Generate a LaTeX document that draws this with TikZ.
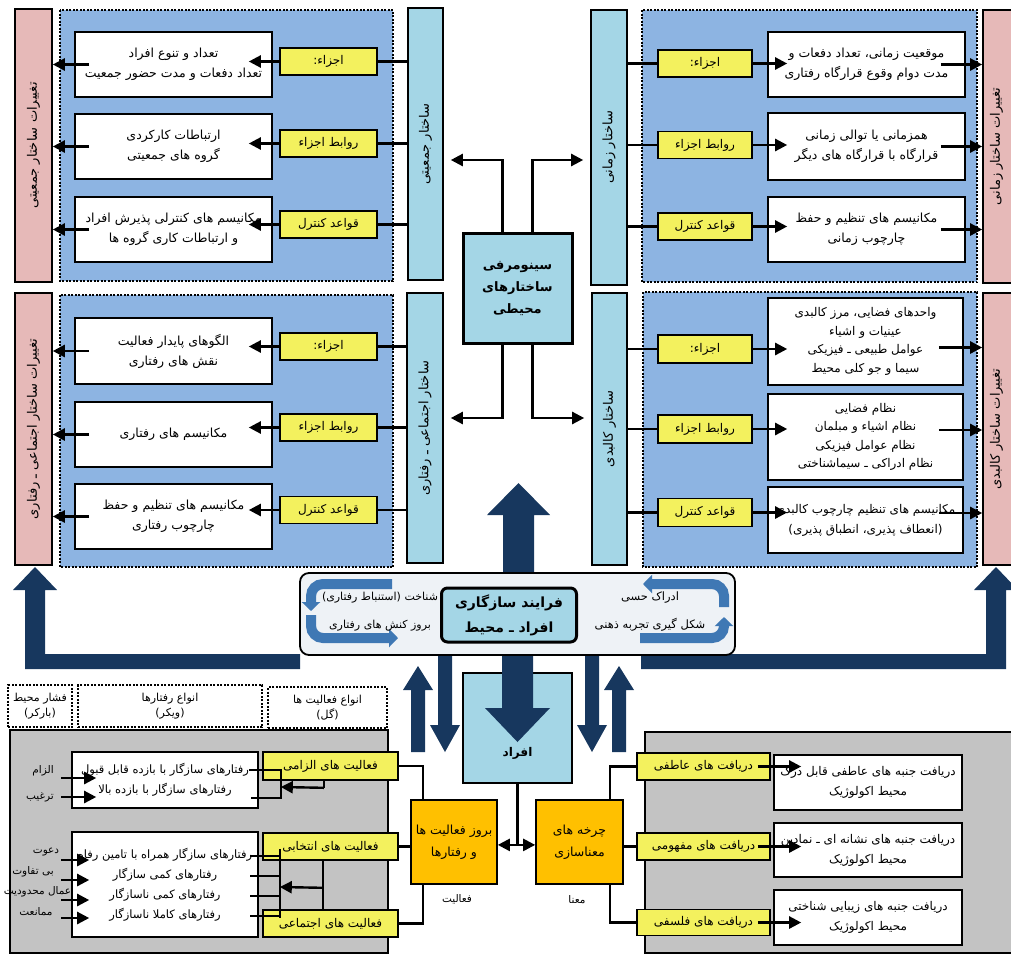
\documentclass[tikz,border=0pt]{standalone}
\usepackage{fontspec}
\newfontfamily\fa[Script=Arabic]{DejaVu Sans}
\TeXXeTstate=1
\usetikzlibrary{arrows.meta,calc}
\definecolor{panelblue}{HTML}{8DB4E2}
\definecolor{barcyan}{HTML}{A4D6E6}
\definecolor{barpink}{HTML}{E6B9B8}
\definecolor{boxyellow}{HTML}{F3F15E}
\definecolor{boxorange}{HTML}{FFC000}
\definecolor{panelgray}{HTML}{C3C3C3}
\definecolor{navy}{HTML}{17375E}
\definecolor{cycleblue}{HTML}{3F78B4}
\definecolor{adfill}{HTML}{EEF2F6}
\newcommand{\fatxt}[1]{\beginR #1\endR}
\tikzset{
  wbox/.style={draw, line width=1.6pt, fill=white, align=center, inner sep=0pt, font=\fa\fontsize{12.5}{20}\selectfont},
  ybox/.style={draw, line width=1.6pt, fill=boxyellow, inner sep=0pt, font=\fa\fontsize{12}{14}\selectfont},
  cbar/.style={draw, line width=1.6pt, fill=barcyan, inner sep=0pt},
  pbar/.style={draw, line width=1.6pt, fill=barpink, inner sep=0pt},
  vtext/.style={rotate=90, font=\fa\fontsize{13}{15}\selectfont},
  obox/.style={draw, line width=1.6pt, fill=boxorange, align=center, inner sep=0pt, font=\fa\fontsize{12.5}{22}\selectfont},
  panel/.style={draw, line width=1.8pt, dash pattern=on 2pt off 1.5pt, fill=panelblue},
  hbox/.style={draw, line width=1.8pt, dash pattern=on 2pt off 1.5pt, fill=white, align=center, inner sep=0pt, font=\fa\fontsize{11}{15}\selectfont},
  link/.style={line width=2.4pt},
  arr/.style={link, -{Triangle[length=12pt,width=12pt]}},
  lbl/.style={font=\fa\fontsize{10.5}{13}\selectfont, inner sep=0pt},
}
\begin{document}
\begin{tikzpicture}[x=1pt,y=-1pt]
\useasboundingbox (0,0) rectangle (1011,956);

% top left: population structure
\draw[panel] (60,10) rectangle (393,281);
\node[pbar, minimum width=37, minimum height=273] (tlp) at (33.5,145.5) {};
\node[vtext] at (tlp) {\fatxt{تغییرات ساختار جمعیتی}};
\node[cbar, minimum width=35, minimum height=272] (tlc) at (425.5,144) {};
\node[vtext] at (tlc) {\fatxt{ساختار جمعیتی}};
\node[wbox, minimum width=197, minimum height=65] (tlw1) at (173.5,64.5) {\fatxt{تعداد و تنوع افراد}\\\fatxt{تعداد دفعات و مدت حضور جمعیت}};
\node[wbox, minimum width=197, minimum height=65] (tlw2) at (173.5,146.5) {\fatxt{ارتباطات کارکردی}\\\fatxt{گروه های جمعیتی}};
\node[wbox, minimum width=197, minimum height=65] (tlw3) at (173.5,229.5) {\fatxt{مکانیسم های کنترلی پذیرش افراد}\\\fatxt{و ارتباطات کاری گروه ها}};
\node[ybox, minimum width=97, minimum height=27] (tly1) at (328.5,61.5) {\fatxt{اجزاء:}};
\node[ybox, minimum width=97, minimum height=27] (tly2) at (328.5,143.5) {\fatxt{روابط اجزاء}};
\node[ybox, minimum width=97, minimum height=27] (tly3) at (328.5,224.5) {\fatxt{قواعد کنترل}};
\draw[link] (tlc.west |- tly1.east) -- (tly1.east);
\draw[link] (tlc.west |- tly2.east) -- (tly2.east);
\draw[link] (tlc.west |- tly3.east) -- (tly3.east);
\draw[arr] (tly1.west) -- ($(tly1.west -| tlw1.east)+(-24,0)$);
\draw[arr] (tly2.west) -- ($(tly2.west -| tlw2.east)+(-24,0)$);
\draw[arr] (tly3.west) -- ($(tly3.west -| tlw3.east)+(-24,0)$);
\draw[arr] ($(tlw1.west)+(15,0)$) -- (tlw1.west -| tlp.east);
\draw[arr] ($(tlw2.west)+(15,0)$) -- (tlw2.west -| tlp.east);
\draw[arr] ($(tlw3.west)+(15,0)$) -- (tlw3.west -| tlp.east);

% middle left: social-behavioural structure
\draw[panel] (60,295) rectangle (393,567);
\node[pbar, minimum width=37, minimum height=272] (mlp) at (33.5,429) {};
\node[vtext] at (mlp) {\fatxt{تغییرات ساختار اجتماعی ـ رفتاری}};
\node[cbar, minimum width=36, minimum height=270] (mlc) at (425,428) {};
\node[vtext] at (mlc) {\fatxt{ساختار اجتماعی ـ رفتاری}};
\node[wbox, minimum width=197, minimum height=66] (mlw1) at (173.5,351) {\fatxt{الگوهای پایدار فعالیت}\\\fatxt{نقش های رفتاری}};
\node[wbox, minimum width=197, minimum height=65] (mlw2) at (173.5,434.5) {\fatxt{مکانیسم های رفتاری}};
\node[wbox, minimum width=197, minimum height=65] (mlw3) at (173.5,516.5) {\fatxt{مکانیسم های تنظیم و حفظ}\\\fatxt{چارچوب رفتاری}};
\node[ybox, minimum width=97, minimum height=27] (mly1) at (328.5,346.5) {\fatxt{اجزاء:}};
\node[ybox, minimum width=97, minimum height=27] (mly2) at (328.5,427.5) {\fatxt{روابط اجزاء}};
\node[ybox, minimum width=97, minimum height=27] (mly3) at (328.5,510) {\fatxt{قواعد کنترل}};
\draw[link] (mlc.west |- mly1.east) -- (mly1.east);
\draw[link] (mlc.west |- mly2.east) -- (mly2.east);
\draw[link] (mlc.west |- mly3.east) -- (mly3.east);
\draw[arr] (mly1.west) -- ($(mly1.west -| mlw1.east)+(-24,0)$);
\draw[arr] (mly2.west) -- ($(mly2.west -| mlw2.east)+(-24,0)$);
\draw[arr] (mly3.west) -- ($(mly3.west -| mlw3.east)+(-24,0)$);
\draw[arr] ($(mlw1.west)+(15,0)$) -- (mlw1.west -| mlp.east);
\draw[arr] ($(mlw2.west)+(15,0)$) -- (mlw2.west -| mlp.east);
\draw[arr] ($(mlw3.west)+(15,0)$) -- (mlw3.west -| mlp.east);

% top right: time structure
\draw[panel] (642,10) rectangle (977,282);
\node[cbar, minimum width=36, minimum height=275] (trc) at (609,147.5) {};
\node[vtext] at (trc) {\fatxt{ساختار زمانی}};
\node[pbar, minimum width=37, minimum height=273] (trp) at (1001.5,146.5) {};
\node[vtext] at ($(trp)+(-5,0)$) {\fatxt{تغییرات ساختار زمانی}};
\node[wbox, minimum width=197, minimum height=65] (trw1) at (866.5,64.5) {\fatxt{موقعیت زمانی، تعداد دفعات و}\\\fatxt{مدت دوام وقوع قرارگاه رفتاری}};
\node[wbox, minimum width=197, minimum height=67] (trw2) at (866.5,146.5) {\fatxt{همزمانی یا توالی زمانی}\\\fatxt{قرارگاه با قرارگاه های دیگر}};
\node[wbox, minimum width=197, minimum height=65] (trw3) at (866.5,229.5) {\fatxt{مکانیسم های تنظیم و حفظ}\\\fatxt{چارچوب زمانی}};
\node[ybox, minimum width=94, minimum height=27] (try1) at (705,63.5) {\fatxt{اجزاء:}};
\node[ybox, minimum width=94, minimum height=27] (try2) at (705,145) {\fatxt{روابط اجزاء}};
\node[ybox, minimum width=94, minimum height=27] (try3) at (705,226.5) {\fatxt{قواعد کنترل}};
\draw[link] (trc.east |- try1.west) -- (try1.west);
\draw[link] (trc.east |- try2.west) -- (try2.west);
\draw[link] (trc.east |- try3.west) -- (try3.west);
\draw[arr] (try1.east) -- ($(try1.east -| trw1.west)+(20,0)$);
\draw[arr] (try2.east) -- ($(try2.east -| trw2.west)+(20,0)$);
\draw[arr] (try3.east) -- ($(try3.east -| trw3.west)+(20,0)$);
\draw[arr] ($(trw1.east)+(-25,0)$) -- (trw1.east -| trp.west);
\draw[arr] ($(trw2.east)+(-25,0)$) -- (trw2.east -| trp.west);
\draw[arr] ($(trw3.east)+(-25,0)$) -- (trw3.east -| trp.west);

% middle right: physical structure
\draw[panel] (643,292) rectangle (977,567);
\node[cbar, minimum width=35, minimum height=272] (mrc) at (609.5,429) {};
\node[vtext] at (mrc) {\fatxt{ساختار کالبدی}};
\node[pbar, minimum width=37, minimum height=272] (mrp) at (1001.5,429) {};
\node[vtext] at ($(mrp)+(-5,0)$) {\fatxt{تغییرات ساختار کالبدی}};
\node[wbox, minimum width=195, minimum height=87, font=\fa\fontsize{12}{18.5}\selectfont] (mrw1) at (865.5,341.5) {\fatxt{واحدهای فضایی، مرز کالبدی}\\\fatxt{عینیات و اشیاء}\\\fatxt{عوامل طبیعی ـ فیزیکی}\\\fatxt{سیما و جو کلی محیط}};
\node[wbox, minimum width=195, minimum height=86, font=\fa\fontsize{12}{18.5}\selectfont] (mrw2) at (865.5,437) {\fatxt{نظام فضایی}\\\fatxt{نظام اشیاء و مبلمان}\\\fatxt{نظام عوامل فیزیکی}\\\fatxt{نظام ادراکی ـ سیماشناختی}};
\node[wbox, minimum width=195, minimum height=66, font=\fa\fontsize{12}{20}\selectfont] (mrw3) at (865.5,520) {\fatxt{مکانیسم های تنظیم چارچوب کالبدی}\\\fatxt{(انعطاف پذیری، انطباق پذیری)}};
\node[ybox, minimum width=94, minimum height=28] (mry1) at (705,349) {\fatxt{اجزاء:}};
\node[ybox, minimum width=94, minimum height=28] (mry2) at (705,429) {\fatxt{روابط اجزاء}};
\node[ybox, minimum width=94, minimum height=28] (mry3) at (705,512.5) {\fatxt{قواعد کنترل}};
\draw[link] (mrc.east |- mry1.west) -- (mry1.west);
\draw[link] (mrc.east |- mry2.west) -- (mry2.west);
\draw[link] (mrc.east |- mry3.west) -- (mry3.west);
\draw[arr] (mry1.east) -- ($(mry1.east -| mrw1.west)+(20,0)$);
\draw[arr] (mry2.east) -- ($(mry2.east -| mrw2.west)+(20,0)$);
\draw[arr] (mry3.east) -- ($(mry3.east -| mrw3.west)+(20,0)$);
\draw[arr] ($(mrw1.east)+(-25,6)$) -- ($(mrw1.east -| mrp.west)+(0,6)$);
\draw[arr] ($(mrw2.east)+(-25,-7)$) -- ($(mrw2.east -| mrp.west)+(0,-7)$);
\draw[arr] ($(mrw3.east)+(-25,-7)$) -- ($(mrw3.east -| mrp.west)+(0,-7)$);

% centre: environmental structures
\node[cbar, line width=3pt, minimum width=109, minimum height=110, align=center, font=\fa\bfseries\fontsize{13}{22}\selectfont] (sn) at (517.5,288) {\fatxt{سینومرفی}\\\fatxt{ساختارهای}\\\fatxt{محیطی}};
\draw[arr] ([xshift=-15pt]sn.north) |- ($(tlc.east)+(7,16)$);
\draw[arr] ([xshift=15pt]sn.north) |- ($(trc.west)+(-7,12.5)$);
\draw[arr] ([xshift=-15pt]sn.south) |- ($(mlc.east)+(7,-10)$);
\draw[arr] ([xshift=15pt]sn.south) |- ($(mrc.west)+(-7,-11)$);

% big arrows
\fill[navy] (503,575) -- (503,515) -- (487,515) -- (518.5,483) -- (550,515) -- (534,515) -- (534,575) -- cycle;
\fill[navy] (300,654) -- (45,654) -- (45,590) -- (57,590) -- (35,567) -- (13,590) -- (25,590) -- (25,669) -- (300,669) -- cycle;
\fill[navy] (641,654) -- (986,654) -- (986,590) -- (974,590) -- (996,567) -- (1018,590) -- (1006,590) -- (1006,669) -- (641,669) -- cycle;
\fill[navy] (411,752) -- (411,690) -- (403,690) -- (418,666) -- (433,690) -- (425,690) -- (425,752) -- cycle;
\fill[navy] (438,656) -- (438,725) -- (430,725) -- (445,752) -- (460,725) -- (452,725) -- (452,656) -- cycle;
\fill[navy] (585,656) -- (585,725) -- (577,725) -- (592,752) -- (607,725) -- (599,725) -- (599,656) -- cycle;
\fill[navy] (612,752) -- (612,690) -- (604,690) -- (619,666) -- (634,690) -- (626,690) -- (626,752) -- cycle;

% adaptation process
\node[draw, line width=1.8pt, rounded corners=9pt, fill=adfill, minimum width=435, minimum height=82] (ad) at (517.5,614) {};
\draw[cycleblue, line width=10pt, rounded corners=12pt, -{Triangle[length=9pt,width=18pt]}] (392,584) -- (311,584) -- (311,611);
\draw[cycleblue, line width=10pt, rounded corners=12pt, -{Triangle[length=9pt,width=18pt]}] (311,615) -- (311,638) -- (398,638);
\draw[cycleblue, line width=10pt, rounded corners=12pt, -{Triangle[length=9pt,width=18pt]}] (724,607) -- (724,584) -- (643,584);
\draw[cycleblue, line width=10pt, rounded corners=12pt, -{Triangle[length=9pt,width=18pt]}] (640,638) -- (724,638) -- (724,617);
\node[align=center, font=\fa\fontsize{11}{28}\selectfont] (adl) at (380,612) {\fatxt{شناخت (استنباط رفتاری)}\\\fatxt{بروز کنش های رفتاری}};
\node[align=center, font=\fa\fontsize{11.5}{28}\selectfont] (adr) at (650,612) {\fatxt{ادراک حسی}\\\fatxt{شکل گیری تجربه ذهنی}};
\node[cbar, line width=3pt, rounded corners=6pt, minimum width=135, minimum height=54, align=center, font=\fa\bfseries\fontsize{14}{25}\selectfont] (fr) at (509,615) {\fatxt{فرایند سازگاری}\\\fatxt{افراد ـ محیط}};

% individuals
\node[cbar, line width=1.8pt, minimum width=109, minimum height=110] (af) at (517.5,728) {};
\fill[navy] (502,656) -- (502,708) -- (485,708) -- (517.5,742) -- (550,708) -- (533,708) -- (533,656) -- cycle;
\node[font=\fa\bfseries\fontsize{12}{14}\selectfont] (afl) at (517.5,753) {\fatxt{افراد}};

% activity and meaning
\node[obox, minimum width=86, minimum height=84] (ob1) at (454,842) {\fatxt{بروز فعالیت ها}\\\fatxt{و رفتارها}};
\node[obox, minimum width=87, minimum height=84] (ob2) at (579.5,842) {\fatxt{چرخه های}\\\fatxt{معناسازی}};
\node[lbl] (ob1l) at (457,899) {\fatxt{فعالیت}};
\node[lbl] (ob2l) at (577,900) {\fatxt{معنا}};
\coordinate (jn) at ($(af.south)+(0,61)$);
\draw[link] (af.south) -- (jn);
\draw[arr] (jn) -- (jn -| ob1.east);
\draw[arr] (jn) -- (jn -| ob2.west);

% bottom left: activities and behaviours
\node[hbox, minimum width=64, minimum height=42] (hb1) at (40,706) {\fatxt{فشار محیط}\\\fatxt{(بارکر)}};
\node[hbox, minimum width=184, minimum height=42] (hb2) at (170,706) {\fatxt{انواع رفتارها}\\\fatxt{(ویکر)}};
\node[hbox, minimum width=119, minimum height=41] (hb3) at (327.5,707.5) {\fatxt{انواع فعالیت ها}\\\fatxt{(گل)}};
\draw[line width=1.6pt, fill=panelgray] (10,730) rectangle (388,953);
\node[wbox, minimum width=186, minimum height=56, font=\fa\fontsize{11.5}{20}\selectfont] (wb1) at (165,780) {\fatxt{رفتارهای سازگار با بازده قابل قبول}\\\fatxt{رفتارهای سازگار با بازده بالا}};
\node[wbox, minimum width=186, minimum height=105, font=\fa\fontsize{11.5}{20}\selectfont] (wb2) at (165,884.5) {\fatxt{رفتارهای سازگار همراه با تامین رفاه}\\\fatxt{رفتارهای کمی سازگار}\\\fatxt{رفتارهای کمی ناسازگار}\\\fatxt{رفتارهای کاملا ناسازگار}};
\node[ybox, minimum width=135, minimum height=28] (yb1) at (330.5,766) {\fatxt{فعالیت های الزامی}};
\node[ybox, minimum width=135, minimum height=27] (yb2) at (330.5,846.5) {\fatxt{فعالیت های انتخابی}};
\node[ybox, minimum width=135, minimum height=27] (yb3) at (330.5,923.5) {\fatxt{فعالیت های اجتماعی}};
\draw[link] ([xshift=-31pt]ob1.north) |- (yb1.east);
\draw[link] (ob1.west |- yb2.east) -- (yb2.east);
\draw[link] ([xshift=-31pt]ob1.south) |- (yb3.east);
\coordinate (k1) at ($(yb1.south)+(-6.5,7)$);
\coordinate (br1) at ($(wb1.east)+(22,7)$);
\draw[link] ([xshift=-6.5pt]yb1.south) -- (k1);
\draw[arr] (k1) -- (br1);
\draw[link] ($(wb1.east)+(-10,-10)$) -| ($(br1)+(0,11)$) -- ($(wb1.east)+(-8,18)$);
\coordinate (k2) at ($(yb2.south)+(-7.5,27)$);
\coordinate (br2) at ($(wb2.east)+(21,2.5)$);
\draw[link] ([xshift=-7.5pt]yb2.south) -- ([xshift=-7.5pt]yb3.north);
\draw[arr] (k2) -- (br2);
\draw[link] ($(br2)+(0,-38)$) -- ($(br2)+(0,31)$);
\draw[link] ($(br2)+(0,-31)$) -- ++(-30,0);
\draw[link] ($(br2)+(0,-11)$) -- ++(-30,0);
\draw[link] ($(br2)+(0,9)$) -- ++(-30,0);
\draw[link] ($(br2)+(0,29)$) -- ++(-30,0);
\node[lbl] (lz1) at (43,771) {\fatxt{الزام}};
\node[lbl] (lz2) at (40,797) {\fatxt{ترغیب}};
\draw[arr] ($(wb1.west)+(-10,-2)$) -- ($(wb1.west)+(25,-2)$);
\draw[arr] ($(wb1.west)+(-10,17)$) -- ($(wb1.west)+(25,17)$);
\node[lbl] (lv1) at (46,852) {\fatxt{دعوت}};
\node[lbl] (lv2) at (33,872) {\fatxt{بی تفاوت}};
\node[lbl] (lv3) at (39,892) {\fatxt{اعمال محدودیت}};
\node[lbl] (lv4) at (36,912) {\fatxt{ممانعت}};
\draw[arr] ($(wb2.west)+(-10,-24.5)$) -- ($(wb2.west)+(18,-24.5)$);
\draw[arr] ($(wb2.west)+(-10,-4.5)$) -- ($(wb2.west)+(18,-4.5)$);
\draw[arr] ($(wb2.west)+(-10,15.5)$) -- ($(wb2.west)+(18,15.5)$);
\draw[arr] ($(wb2.west)+(-10,33.5)$) -- ($(wb2.west)+(18,33.5)$);

% bottom right: perceptions
\draw[line width=1.6pt, fill=panelgray] (645,732) rectangle (1016,953);
\node[ybox, minimum width=133, minimum height=27] (yr1) at (703.5,766.5) {\fatxt{دریافت های عاطفی}};
\node[ybox, minimum width=133, minimum height=27] (yr2) at (703.5,846.5) {\fatxt{دریافت های مفهومی}};
\node[ybox, minimum width=133, minimum height=26] (yr3) at (703.5,922.5) {\fatxt{دریافت های فلسفی}};
\node[wbox, minimum width=188, minimum height=55, font=\fa\fontsize{12}{20}\selectfont] (wr1) at (868,782.5) {\fatxt{دریافت جنبه های عاطفی قابل درک}\\\fatxt{محیط اکولوژیک}};
\node[wbox, minimum width=188, minimum height=54, font=\fa\fontsize{12}{20}\selectfont] (wr2) at (868,850) {\fatxt{دریافت جنبه های نشانه ای ـ نمادین}\\\fatxt{محیط اکولوژیک}};
\node[wbox, minimum width=188, minimum height=55, font=\fa\fontsize{12}{20}\selectfont] (wr3) at (868,917.5) {\fatxt{دریافت جنبه های زیبایی شناختی}\\\fatxt{محیط اکولوژیک}};
\draw[arr] ($(yr1.east)+(-13,0)$) -- ($(yr1.east -| wr1.west)+(28,0)$);
\draw[arr] ($(yr2.east)+(-13,0)$) -- ($(yr2.east -| wr2.west)+(28,0)$);
\draw[arr] ($(yr3.east)+(-13,0)$) -- ($(yr3.east -| wr3.west)+(28,0)$);
\draw[link] ([xshift=30.5pt]ob2.north) |- (yr1.west);
\draw[link] (ob2.east |- yr2.west) -- (yr2.west);
\draw[link] ([xshift=30.5pt]ob2.south) |- (yr3.west);
\end{tikzpicture}
\end{document}
